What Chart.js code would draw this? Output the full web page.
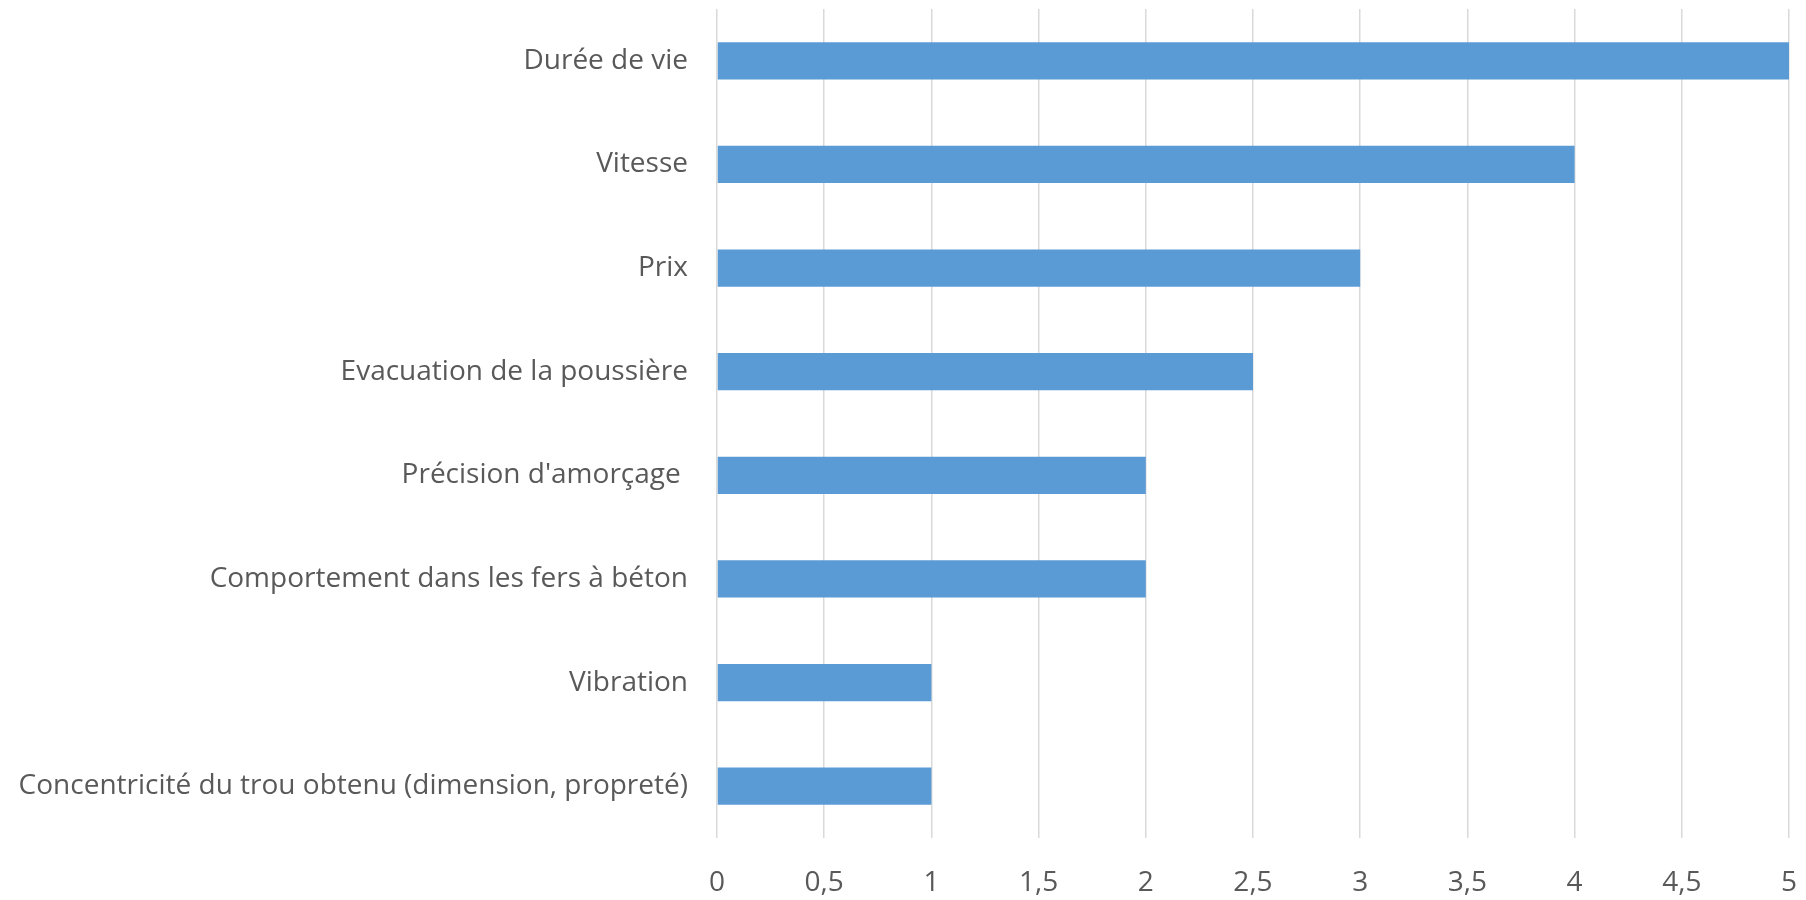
<!DOCTYPE html>
<html>
<head>
<meta charset="utf-8">
<script src="https://cdn.jsdelivr.net/npm/chart.js@4"></script>
<style>
    html, body { margin: 0; padding: 0; background: #fff; }
    #wrap { width: 1806px; height: 900px; }
</style>
</head>
<body>
<div id="wrap"><canvas id="chart"></canvas></div>
<script>
const categories = [
    "Durée de vie",
    "Vitesse",
    "Prix",
    "Evacuation de la poussière",
    "Précision d'amorçage ",
    "Comportement dans les fers à béton",
    "Vibration",
    "Concentricité du trou obtenu (dimension, propreté)",
];
const scores = [5, 4, 3, 2.5, 2, 2, 1, 1];
const xTicks = [0, 0.5, 1, 1.5, 2, 2.5, 3, 3.5, 4, 4.5, 5];

const textColor = "#595959";
const fontFamily = "'Open Sans', 'Noto Sans', sans-serif";

const ctx = document.getElementById("chart").getContext("2d");
new Chart(ctx, {
    type: "bar",
    data: {
        labels: categories,
        datasets: [
            {
                data: scores,
                backgroundColor: "#5b9bd5",
                borderWidth: 0,
                categoryPercentage: 1,
                barPercentage: 0.36,
            },
        ],
    },
    options: {
        indexAxis: "y",
        responsive: true,
        maintainAspectRatio: false,
        animation: false,
        layout: { padding: { top: 9, right: 17, left: 0, bottom: 0 } },
        plugins: {
            legend: { display: false },
            tooltip: { enabled: false },
        },
        scales: {
            x: {
                min: 0,
                max: 5,
                afterBuildTicks: (axis) => {
                    axis.ticks = xTicks.map((v) => ({ value: v }));
                },
                grid: { color: "#d9d9d9", lineWidth: 1.5, drawTicks: false },
                border: { display: false },
                ticks: {
                    color: textColor,
                    font: { family: fontFamily, size: 28 },
                    padding: 28,
                    callback: (value) => String(value).replace(".", ","),
                },
                afterFit: (axis) => {
                    axis.height = 62;
                    axis.paddingLeft = 0;
                    axis.paddingRight = 0;
                },
            },
            y: {
                grid: { display: false, drawTicks: false },
                border: { display: false },
                ticks: {
                    color: textColor,
                    font: { family: fontFamily, size: 28 },
                    padding: 29,
                },
                afterFit: (axis) => {
                    axis.width = 717;
                    axis.paddingTop = 0;
                    axis.paddingBottom = 0;
                },
            },
        },
    },
});
</script>
</body>
</html>
